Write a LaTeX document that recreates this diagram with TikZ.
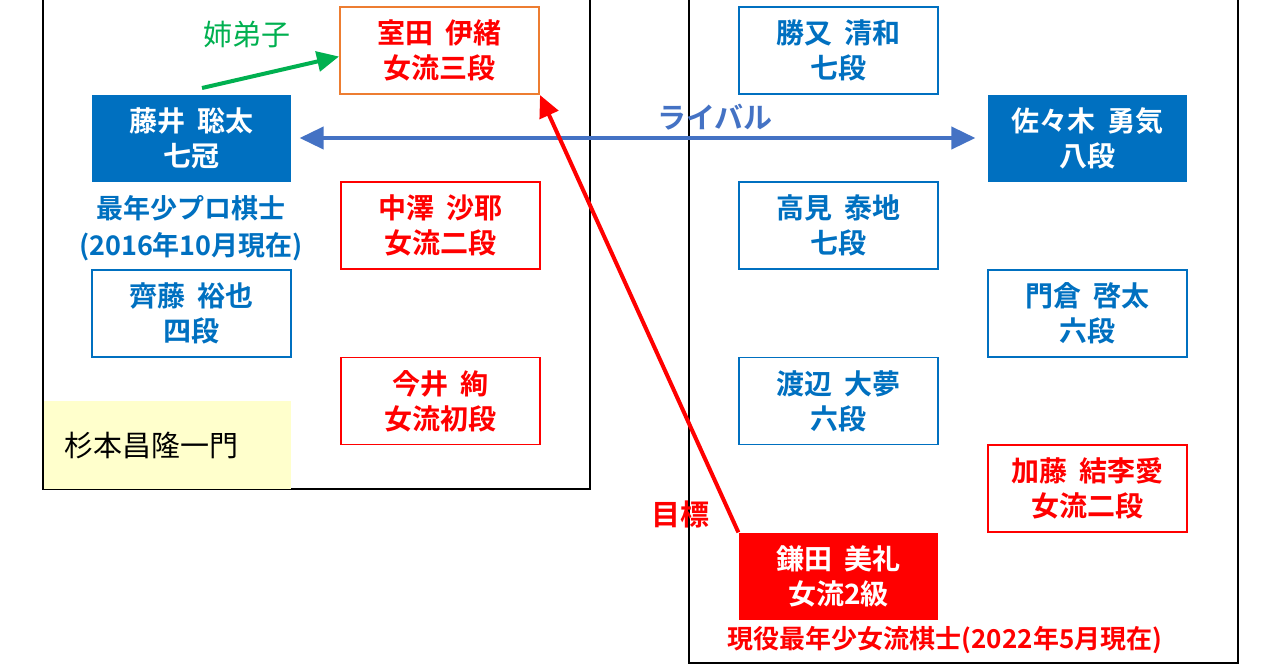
\documentclass[tikz,border=0pt]{standalone}
\usepackage{fontspec}
\setmainfont{Noto Sans CJK JP}[BoldFont={Noto Sans CJK JP Bold}]
\usetikzlibrary{positioning,arrows.meta}
\definecolor{kblue}{RGB}{0,112,192}
\definecolor{rblue}{RGB}{68,114,196}
\definecolor{kred}{RGB}{255,0,0}
\definecolor{kgreen}{RGB}{0,176,80}
\definecolor{korange}{RGB}{237,125,49}
\definecolor{kyellow}{RGB}{255,255,204}
\tikzset{
  box/.style={rectangle, minimum width=199pt, minimum height=87pt, align=center, font=\bfseries\fontsize{28}{35}\selectfont, inner sep=0pt, line width=1.2pt},
  pro/.style={box, draw=kblue, text=kblue},
  top/.style={box, fill=kblue, text=white},
  joryu/.style={box, draw=kred, text=kred},
  note/.style={font=\bfseries\fontsize{26}{30}\selectfont, inner sep=0pt},
  link/.style={line width=4pt, -{Triangle[length=22pt,width=20pt]}}
}
\newcommand{\nsp}{\hspace{0.4em}}
\begin{document}
\begin{tikzpicture}[x=1pt,y=-1pt]
\useasboundingbox (0,0) rectangle (1280,670);
% frames
\draw[line width=1.5pt] (43,-5) rectangle (590,489);
\draw[line width=1.5pt] (689,-5) rectangle (1238,663);
\node (ichimon) [fill=kyellow, minimum width=247pt, minimum height=88pt, inner sep=0pt, anchor=north west] at (44,401) {};
\node [font=\fontsize{29}{30}\selectfont, anchor=west, inner sep=0pt] at (64,446) {杉本昌隆一門};
% left group
\node (murota) [box, draw=korange, line width=2pt, text=kred] at (439.5,50.5) {室田\nsp 伊緒\\女流三段};
\node (fujii) [top] at (191.5,138) {藤井\nsp 聡太\\七冠};
\node (fujiinote) [note, text=kblue, align=center, font=\bfseries\fontsize{27}{37}\selectfont] at (191,228) {最年少プロ棋士\\(2016年10月現在)};
\node (saito) [pro] at (191.5,313.5) {齊藤\nsp 裕也\\四段};
\node (nakazawa) [joryu] at (440.5,225.5) {中澤\nsp 沙耶\\女流二段};
\node (imai) [joryu] at (440.5,401) {今井\nsp 絢\\女流初段};
\node (anedeshi) [note, text=kgreen, font=\fontsize{29}{30}\selectfont] at (247,35) {姉弟子};
% right group
\node (katsumata) [pro] at (838.5,50.5) {勝又\nsp 清和\\七段};
\node (sasaki) [top] at (1087.5,138) {佐々木\nsp 勇気\\八段};
\node (takami) [pro] at (838.5,225.5) {高見\nsp 泰地\\七段};
\node (kadokura) [pro] at (1087.5,313.5) {門倉\nsp 啓太\\六段};
\node (watanabe) [pro] at (838.5,401) {渡辺\nsp 大夢\\六段};
\node (kato) [joryu] at (1087.5,488.5) {加藤\nsp 結李愛\\女流二段};
\node (kamada) [box, fill=kred, text=white] at (838.5,576.5) {鎌田\nsp 美礼\\女流2級};
\node (kamadanote) [note, text=kred] at (945,640) {現役最年少女流棋士(2022年5月現在)};
\node (rival) [note, text=rblue, font=\bfseries\fontsize{29}{30}\selectfont] at (715,117) {ライバル};
\node (mokuhyo) [note, text=kred, font=\bfseries\fontsize{29}{30}\selectfont] at (680,514) {目標};
% connectors
\coordinate (fujiitop) at (202,88);
\draw[link, kgreen] (fujiitop) -- ([yshift=-6pt]murota.west);
\draw[line width=4pt, rblue, {Triangle[length=24pt,width=22pt]}-{Triangle[length=24pt,width=22pt]}] ([xshift=8pt]fujii.east) -- ([xshift=-12pt]sasaki.west);
\draw[link, kred] (kamada.north west) -- (murota.south east);
\end{tikzpicture}
\end{document}
